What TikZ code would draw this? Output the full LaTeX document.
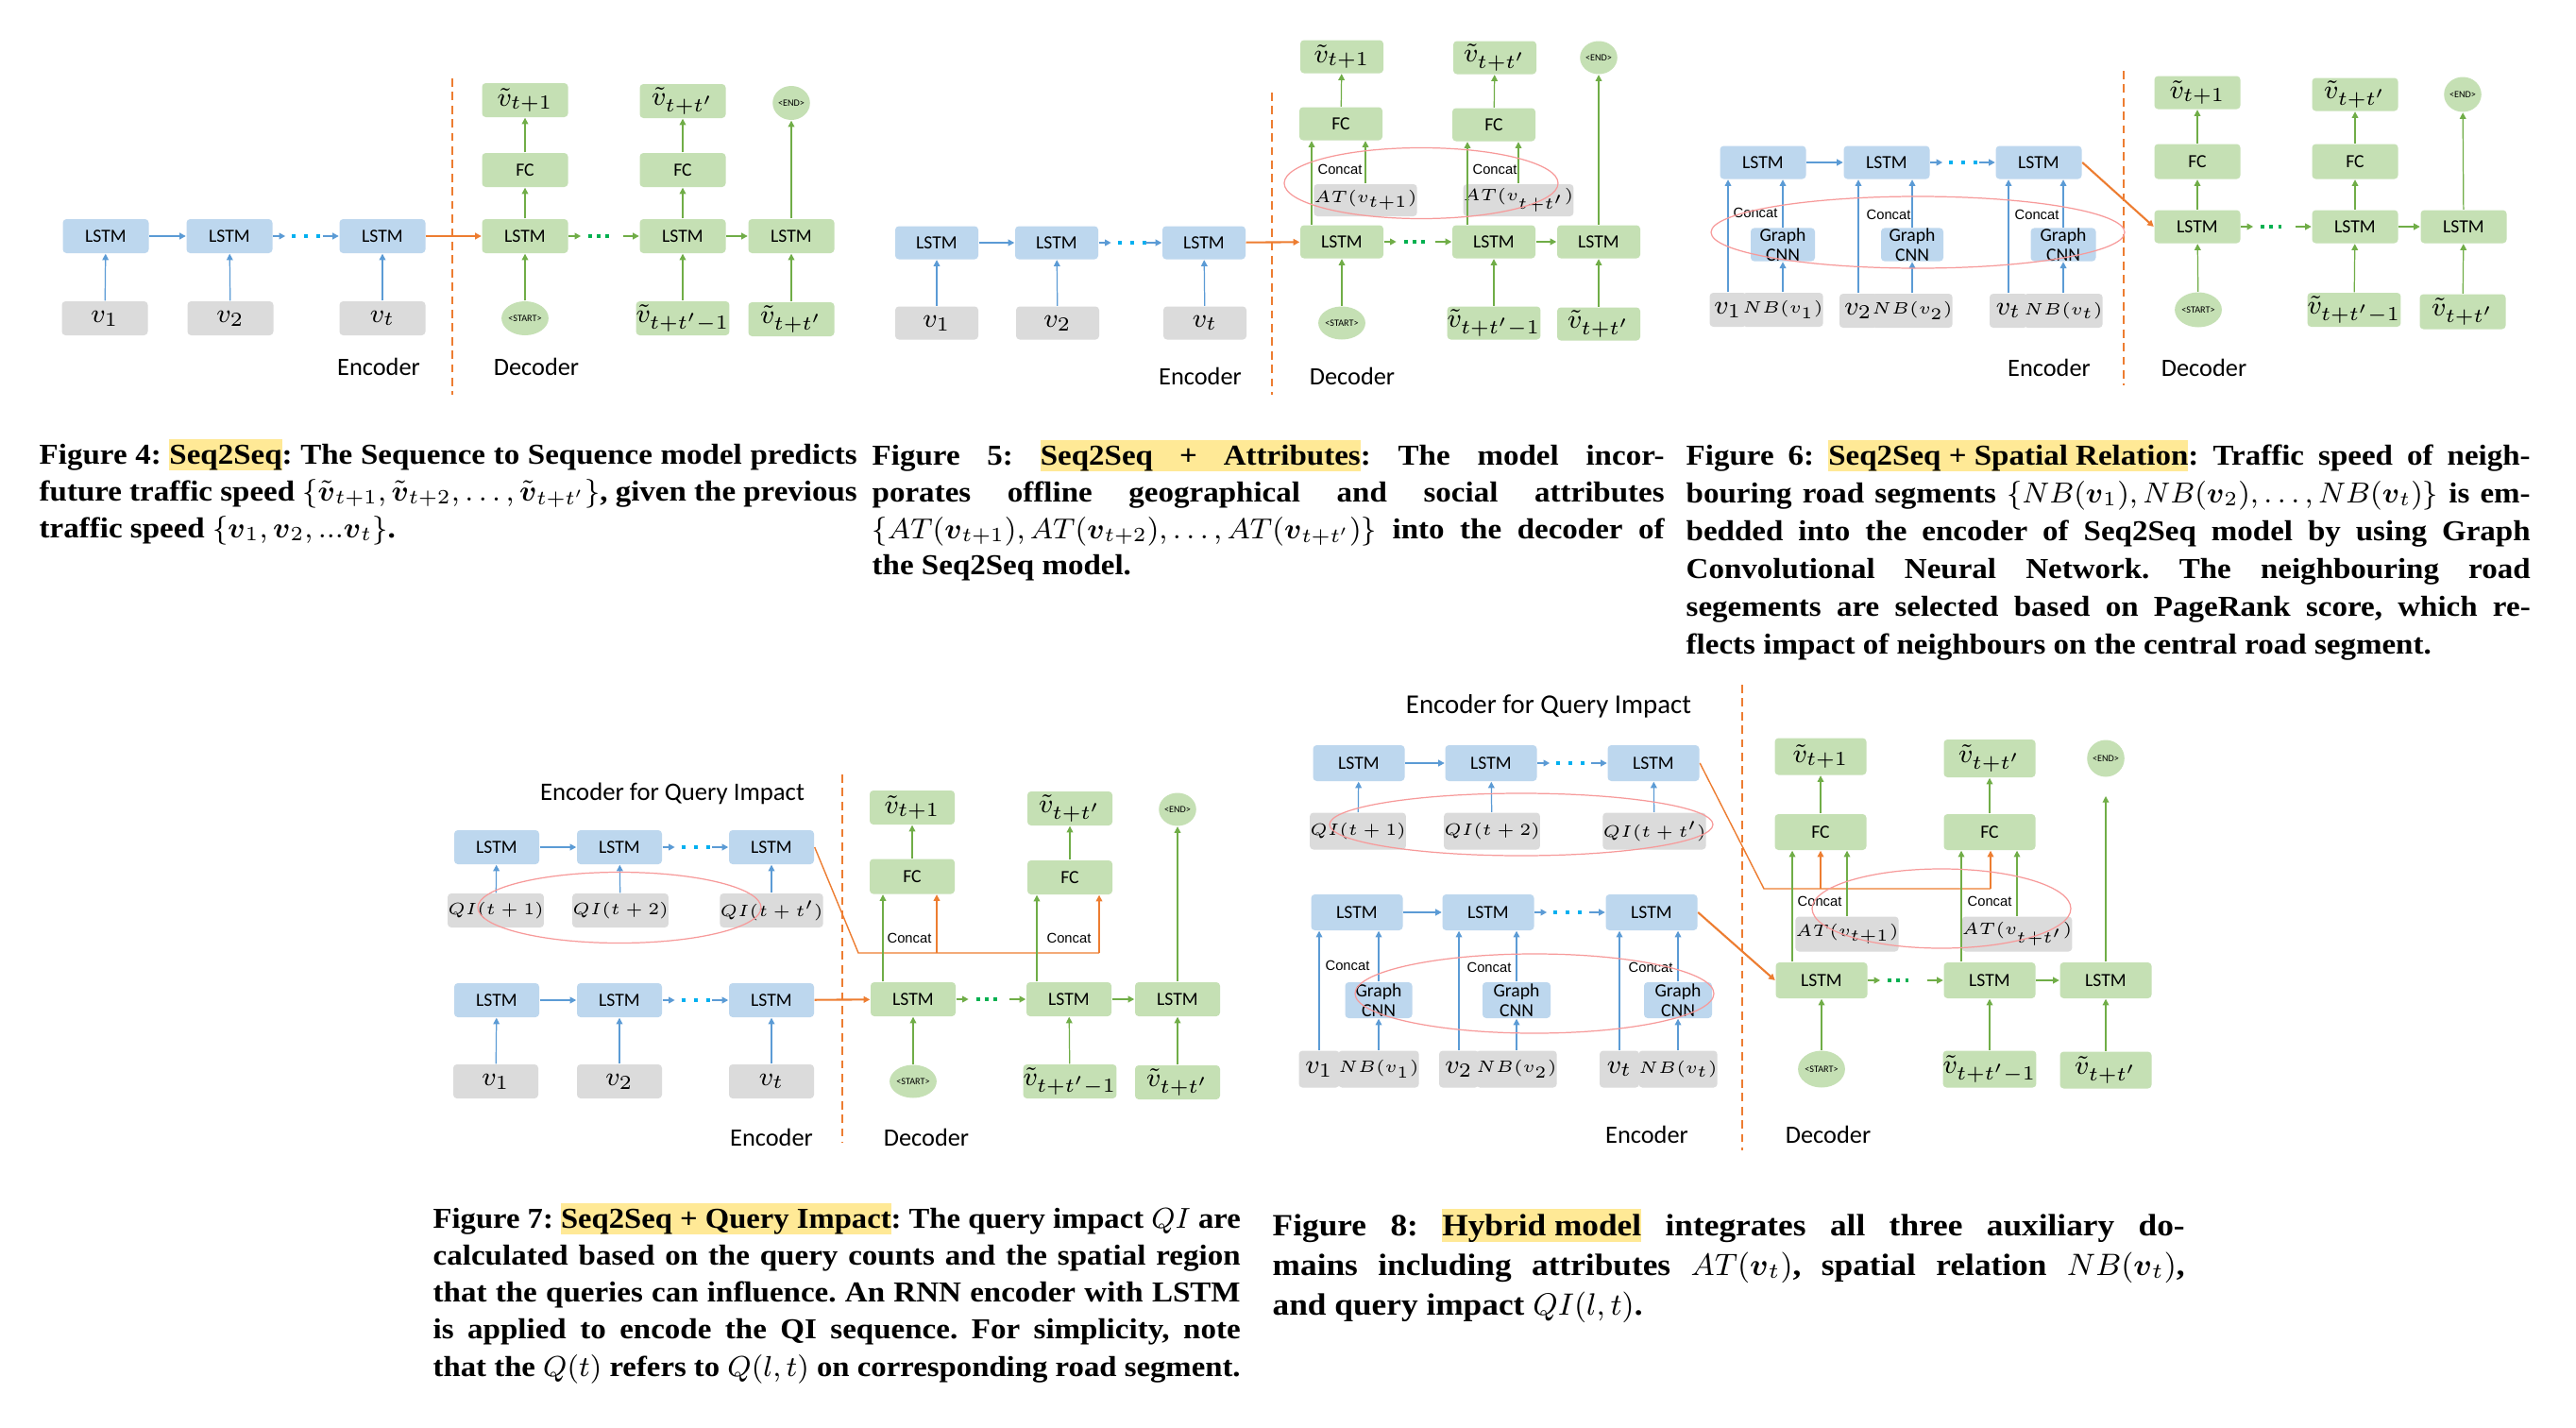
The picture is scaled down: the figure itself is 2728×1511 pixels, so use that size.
\RequirePackage{fix-cm}
\documentclass[tikz,border=0pt]{standalone}
\usepackage{amsmath}
\usepackage{fontspec}
\setmainfont{Liberation Serif}[FakeStretch=1.08]
\newfontfamily\carl{Carlito}
\newfontfamily\arl{Liberation Sans}
\usetikzlibrary{arrows.meta,shapes.geometric,calc}

\definecolor{encblue}{HTML}{BDD7EE}
\definecolor{decgreen}{HTML}{C5E0B4}
\definecolor{inpgray}{HTML}{DBDBDB}
\definecolor{arrblue}{HTML}{5B9BD5}
\definecolor{arrgreen}{HTML}{70AD47}
\definecolor{orangec}{HTML}{ED7D31}
\definecolor{cyanc}{HTML}{00B0F0}
\definecolor{greendot}{HTML}{00B050}
\definecolor{ellred}{HTML}{F79A9A}
\definecolor{hlc}{HTML}{FFE996}

\newcommand\fLSTM{\carl\fontsize{5.6}{6.1}\selectfont}
\newcommand\fCat{\arl\fontsize{4.2}{5}\selectfont}
\newcommand\fTiny{\carl\fontsize{2.9}{3}\selectfont}
\newcommand\fLab{\carl\fontsize{7.5}{8}\selectfont}
\newcommand\fTitleA{\carl\fontsize{7.6}{8}\selectfont}
\newcommand\fTitleB{\carl\fontsize{8.2}{9}\selectfont}
\newcommand\fMath{\fontsize{8}{9}\selectfont}
\newcommand\fSm{\fontsize{5}{6}\selectfont}
\newcommand\fCapA{\fontsize{8.7}{10}\selectfont\bfseries\frenchspacing}
\newcommand\fCapB{\fontsize{9.3}{11}\selectfont\bfseries\frenchspacing}
\newcommand\hlb[1]{{\setlength{\fboxsep}{0pt}\colorbox{hlc}{\rule[-0.18em]{0pt}{1.03em}#1}}}
\newcommand\hlbs[2]{{\setlength{\fboxsep}{0pt}\colorbox{hlc}{\rule[-0.18em]{0pt}{1.03em}\makebox[#1][s]{#2}}}}
\newcommand\bv{\boldsymbol{v}}
\newsavebox\linebox
\newcommand\fitline[2]{\sbox\linebox{#2}\ifdim\wd\linebox>#1\relax\resizebox{#1}{\height}{\usebox\linebox}\else\makebox[#1][s]{#2}\fi}

% a -> ... -> b connectors
\newcommand\encdots[2]{%
  \draw[abH] (#1.east) -- ([xshift=1.3mm]#1.east);
  \draw[dotE] ([xshift=2.0mm]#1.east) -- ([xshift=5.0mm]#1.east);
  \draw[abH] ([xshift=-1.7mm]#2.west) -- (#2.west);}
\newcommand\decdots[2]{%
  \draw[agH] (#1.east) -- ([xshift=1.3mm]#1.east);
  \draw[dotD] ([xshift=2.1mm]#1.east) -- ([xshift=4.5mm]#1.east);
  \draw[agH] ([xshift=-1.7mm]#2.west) -- (#2.west);}

\tikzset{
  bw/.style={minimum width=9.1mm, minimum height=3.6mm},
  boxbase/.style={rounded corners=1.1pt, inner sep=0pt, align=center},
  enc/.style={boxbase, bw, fill=encblue, font=\fLSTM},
  dec/.style={boxbase, bw, fill=decgreen, font=\fLSTM},
  inp/.style={boxbase, bw, fill=inpgray, font=\fMath},
  outb/.style={boxbase, bw, fill=decgreen, font=\fMath},
  smallg/.style={boxbase, fill=inpgray, font=\fSm},
  gcnn/.style={boxbase, fill=encblue, font=\fLSTM},
  oval/.style={ellipse, inner sep=0pt, fill=decgreen, font=\fTiny, minimum width=3.7mm, minimum height=3.6mm},
  lab/.style={inner sep=0pt, font=\fLab},
  cat/.style={inner sep=0pt, font=\fCat},
  capA/.style={anchor=base west, inner sep=0pt, font=\fCapA},
  capB/.style={anchor=base west, inner sep=0pt, font=\fCapB},
  arrtip/.style={-{Triangle[length=1.9pt,width=1.9pt]}},
  ab/.style={draw=arrblue, line width=0.35pt, arrtip},
  abH/.style={draw=arrblue, line width=0.6pt, arrtip},
  ag/.style={draw=arrgreen, line width=0.35pt, arrtip},
  agH/.style={draw=arrgreen, line width=0.6pt, arrtip},
  ao/.style={draw=orangec, line width=0.4pt, arrtip},
  aoH/.style={draw=orangec, line width=0.6pt, arrtip},
  aoL/.style={draw=orangec, line width=0.4pt},
  dotE/.style={draw=cyanc, line width=1.1pt, dash pattern=on 1.1pt off 2.6pt},
  dotD/.style={draw=greendot, line width=1.1pt, dash pattern=on 1.1pt off 1.5pt},
  sepline/.style={draw=orangec, line width=0.45pt, dash pattern=on 2.5pt off 1.6pt},
  ell/.style={draw=ellred, line width=0.35pt},
}

\begin{document}
\begin{tikzpicture}[x=0.1mm, y=-0.1mm]
\fill[white] (0,0) rectangle (2728,1511);
\useasboundingbox (0,0) rectangle (2728,1511);

%================ FIGURE 4 =================
\begin{scope}[bw/.style={minimum width=9.1mm, minimum height=3.6mm}, oval/.append style={minimum width=3.8mm, minimum height=3.6mm}]
\node[enc] (a1) at (112,250) {LSTM};
\node[enc] (a2) at (243,250) {LSTM};
\node[enc] (a3) at (405,250) {LSTM};
\node[inp] (ai1) at (111,337) {$v_1$};
\node[inp] (ai2) at (244,337) {$v_2$};
\node[inp] (ai3) at (405,337) {$v_t$};
\node[dec] (ad1) at (556,250) {LSTM};
\node[dec] (ad2) at (723,250) {LSTM};
\node[dec] (ad3) at (838,250) {LSTM};
\node[dec] (af1) at (556,180) {FC};
\node[dec] (af2) at (723,180) {FC};
\node[outb] (ao1) at (556,106) {$\tilde{v}_{t+1}$};
\node[outb] (ao2) at (723,107) {$\tilde{v}_{t+t'}$};
\node[oval] (aend) at (838,109) {<END>};
\node[oval] (astart) at (556,337) {<START>};
\node[outb] (ain2) at (723,337) {$\tilde{v}_{t+t'-1}$};
\node[outb] (ain3) at (838,338) {$\tilde{v}_{t+t'}$};
\node[lab] (aenc) at (401,388) {Encoder};
\node[lab] (adec) at (568,388) {Decoder};
\draw[sepline] (479,83) -- (479,418);
\draw[abH] (a1) -- (a2);
\encdots{a2}{a3}
\draw[ab] (ai1) -- (a1);
\draw[ab] (ai2) -- (a2);
\draw[ab] (ai3) -- (a3);
\draw[aoH] (a3) -- (ad1);
\decdots{ad1}{ad2}
\draw[agH] (ad2) -- (ad3);
\draw[ag] (astart) -- (ad1);
\draw[ag] (ain2) -- (ad2);
\draw[ag] (ain3) -- (ad3);
\draw[ag] (ad1) -- (af1);
\draw[ag] (ad2) -- (af2);
\draw[ag] (af1) -- (ao1);
\draw[ag] (af2) -- (ao2);
\draw[ag] (ad3) -- (aend);
\end{scope}

%================ FIGURE 5 =================
\begin{scope}[bw/.style={minimum width=8.8mm, minimum height=3.5mm}, oval/.append style={minimum width=3.5mm, minimum height=3.5mm}]
\node[enc] (b1) at (992,257) {LSTM};
\node[enc] (b2) at (1119,257) {LSTM};
\node[enc] (b3) at (1275,257) {LSTM};
\node[inp] (bi1) at (992,342) {$v_1$};
\node[inp] (bi2) at (1120,342) {$v_2$};
\node[inp] (bi3) at (1276,342) {$v_t$};
\node[dec] (bd1) at (1421,256) {LSTM};
\node[dec] (bd2) at (1582,256) {LSTM};
\node[dec] (bd3) at (1693,256) {LSTM};
\node[dec] (bf1) at (1420,131) {FC};
\node[dec] (bf2) at (1582,132) {FC};
\node[outb] (bo1) at (1421,60) {$\tilde{v}_{t+1}$};
\node[outb] (bo2) at (1583,61) {$\tilde{v}_{t+t'}$};
\node[oval] (bend) at (1693,61) {<END>};
\node[smallg, minimum width=8.7mm, minimum height=3.4mm] (bat1) at (1446,212) {$AT(v_{t+1})$};
\node[smallg, minimum width=8.7mm, minimum height=3.4mm] (bat2) at (1608,212) {$AT(v_{t+t'})$};
\node[cat] (bc1) at (1419,179) {Concat};
\node[cat] (bc2) at (1583,179) {Concat};
\node[oval] (bstart) at (1421,342) {<START>};
\node[outb] (bin2) at (1582,342) {$\tilde{v}_{t+t'-1}$};
\node[outb] (bin3) at (1693,343) {$\tilde{v}_{t+t'}$};
\node[lab] (benc) at (1271,398) {Encoder};
\node[lab] (bdec) at (1432,398) {Decoder};
\draw[sepline] (1347,98) -- (1347,418);
\draw[abH] (b1) -- (b2);
\encdots{b2}{b3}
\draw[ab] (bi1) -- (b1);
\draw[ab] (bi2) -- (b2);
\draw[ab] (bi3) -- (b3);
\draw[aoH] (b3) -- (bd1);
\decdots{bd1}{bd2}
\draw[agH] (bd2) -- (bd3);
\draw[ag] (bstart) -- (bd1);
\draw[ag] (bin2) -- (bd2);
\draw[ag] (bin3) -- (bd3);
\draw[ag] ([xshift=-3.2mm]bd1.north) -- ([xshift=-3.2mm]bd1.north |- bf1.south);
\draw[ag] (bat1.north) -- (bat1.north |- bf1.south);
\draw[ag] ([xshift=-2.8mm]bd2.north) -- ([xshift=-2.8mm]bd2.north |- bf2.south);
\draw[ag] (bat2.north) -- (bat2.north |- bf2.south);
\draw[ag] (bf1) -- (bo1);
\draw[ag] (bf2) -- (bo2);
\draw[ag] (bd3) -- (bend);
\draw[ell] (1505,194) ellipse [x radius=14.5mm, y radius=3.75mm];
\end{scope}

%================ FIGURE 6 =================
\begin{scope}[bw/.style={minimum width=9.1mm, minimum height=3.5mm}, oval/.append style={minimum width=3.6mm, minimum height=3.7mm}]
\node[enc] (c1) at (1867,172) {LSTM};
\node[enc] (c2) at (1998,172) {LSTM};
\node[enc] (c3) at (2159,172) {LSTM};
\node[gcnn, minimum width=6.8mm, minimum height=3.5mm] (cg1) at (1888,259) {Graph\\CNN};
\node[gcnn, minimum width=6.6mm, minimum height=3.5mm] (cg2) at (2025,259) {Graph\\CNN};
\node[gcnn, minimum width=6.9mm, minimum height=3.5mm] (cg3) at (2185,259) {Graph\\CNN};
\node[boxbase, fill=inpgray, font=\fMath, minimum width=3.9mm, minimum height=3.6mm] (cv1) at (1830,328) {$v_1$};
\node[smallg, minimum width=6.7mm, minimum height=3.6mm] (cn1) at (1888,328) {$NB(v_1)$};
\node[boxbase, fill=inpgray, font=\fMath, minimum width=4.0mm, minimum height=3.6mm] (cv2) at (1968,329) {$v_2$};
\node[smallg, minimum width=6.6mm, minimum height=3.6mm] (cn2) at (2025,329) {$NB(v_2)$};
\node[boxbase, fill=inpgray, font=\fMath, minimum width=4.0mm, minimum height=3.6mm] (cv3) at (2127,329) {$v_t$};
\node[smallg, minimum width=6.9mm, minimum height=3.6mm] (cn3) at (2185,329) {$NB(v_t)$};
\node[cat] (cc1) at (1859,225) {Concat};
\node[cat] (cc2) at (2000,227) {Concat};
\node[cat] (cc3) at (2157,227) {Concat};
\node[dec] (cd1) at (2327,240) {LSTM};
\node[dec] (cd2) at (2494,240) {LSTM};
\node[dec] (cd3) at (2609,240) {LSTM};
\node[dec, minimum height=3.7mm] (cf1) at (2327,171) {FC};
\node[dec, minimum height=3.7mm] (cf2) at (2494,171) {FC};
\node[outb] (co1) at (2327,98) {$\tilde{v}_{t+1}$};
\node[outb] (co2) at (2494,100) {$\tilde{v}_{t+t'}$};
\node[oval] (cend) at (2608,100) {<END>};
\node[oval] (cstart) at (2328,328) {<START>};
\node[outb, minimum height=3.6mm] (cin2) at (2493,328) {$\tilde{v}_{t+t'-1}$};
\node[outb, minimum height=3.7mm] (cin3) at (2608,330) {$\tilde{v}_{t+t'}$};
\node[lab] (cenc) at (2170,389) {Encoder};
\node[lab] (cdec) at (2334,389) {Decoder};
\draw[sepline] (2249,75) -- (2249,408);
\draw[abH] (c1) -- (c2);
\encdots{c2}{c3}
\draw[ab] (cv1.north) -- (cv1.north |- c1.south);
\draw[ab] (cn1) -- (cg1);
\draw[ab] (cg1.north) -- (cg1.north |- c1.south);
\draw[ab] (cv2.north) -- (cv2.north |- c2.south);
\draw[ab] (cn2) -- (cg2);
\draw[ab] (cg2.north) -- (cg2.north |- c2.south);
\draw[ab] (cv3.north) -- (cv3.north |- c3.south);
\draw[ab] (cn3) -- (cg3);
\draw[ab] (cg3.north) -- (cg3.north |- c3.south);
\draw[aoH] (c3.east) -- (cd1.west);
\decdots{cd1}{cd2}
\draw[agH] (cd2) -- (cd3);
\draw[ag] (cstart) -- (cd1);
\draw[ag] (cin2) -- (cd2);
\draw[ag] (cin3) -- (cd3);
\draw[ag] (cd1) -- (cf1);
\draw[ag] (cd2) -- (cf2);
\draw[ag] (cf1) -- (co1);
\draw[ag] (cf2) -- (co2);
\draw[ag] (cd3) -- (cend);
\draw[ell] (2031,246) ellipse [x radius=21.9mm, y radius=3.8mm];
\end{scope}

%================ FIGURE 7 =================
\begin{scope}[bw/.style={minimum width=9.0mm, minimum height=3.6mm}, oval/.append style={minimum width=3.5mm, minimum height=3.5mm}]
\node[inner sep=0pt, font=\fTitleA] (gtitle) at (712,840) {Encoder for Query Impact};
\node[enc] (g1) at (526,897) {LSTM};
\node[enc] (g2) at (656,897) {LSTM};
\node[enc] (g3) at (817,897) {LSTM};
\node[smallg, minimum width=9.0mm, minimum height=3.6mm] (gq1) at (525,964) {$QI(t+1)$};
\node[smallg, minimum width=9.0mm, minimum height=3.6mm] (gq2) at (657,964) {$QI(t+2)$};
\node[smallg, minimum width=9.0mm, minimum height=3.6mm] (gq3) at (817,964) {$QI(t+t')$};
\node[enc] (h1) at (526,1059) {LSTM};
\node[enc] (h2) at (656,1059) {LSTM};
\node[enc] (h3) at (817,1059) {LSTM};
\node[inp] (hi1) at (525,1145) {$v_1$};
\node[inp] (hi2) at (656,1145) {$v_2$};
\node[inp] (hi3) at (817,1145) {$v_t$};
\node[dec] (gd1) at (967,1058) {LSTM};
\node[dec] (gd2) at (1132,1058) {LSTM};
\node[dec] (gd3) at (1247,1058) {LSTM};
\node[dec, minimum height=3.7mm] (gf1) at (966,928) {FC};
\node[dec, minimum height=3.6mm] (gf2) at (1133,929) {FC};
\node[outb] (go1) at (966,855) {$\tilde{v}_{t+1}$};
\node[outb] (go2) at (1133,856) {$\tilde{v}_{t+t'}$};
\node[oval] (gend) at (1247,857) {<END>};
\node[oval] (gstart) at (967,1145) {<START>};
\node[outb] (gin2) at (1133,1145) {$\tilde{v}_{t+t'-1}$};
\node[outb] (gin3) at (1247,1146) {$\tilde{v}_{t+t'}$};
\node[cat] (gc1) at (963,993) {Concat};
\node[cat] (gc2) at (1132,993) {Concat};
\node[lab] (genc) at (817,1204) {Encoder};
\node[lab] (gdec) at (981,1204) {Decoder};
\coordinate (gk1) at (909,1009);
\coordinate (gk2) at (1164,1009);
\draw[sepline] (892,820) -- (892,1210);
\draw[abH] (g1) -- (g2);
\encdots{g2}{g3}
\draw[ab] (gq1) -- (g1);
\draw[ab] (gq2) -- (g2);
\draw[ab] (gq3) -- (g3);
\draw[abH] (h1) -- (h2);
\encdots{h2}{h3}
\draw[ab] (hi1) -- (h1);
\draw[ab] (hi2) -- (h2);
\draw[ab] (hi3) -- (h3);
\draw[aoH] (h3) -- (gd1);
\draw[aoL] (g3.east) -- (gk1) -- (gk2);
\draw[ao] ([xshift=2.6mm]gf1.south |- gk1) -- ([xshift=2.6mm]gf1.south);
\draw[ao] (gk2) -- (gk2 |- gf2.south);
\decdots{gd1}{gd2}
\draw[agH] (gd2) -- (gd3);
\draw[ag] (gstart) -- (gd1);
\draw[ag] (gin2) -- (gd2);
\draw[ag] (gin3) -- (gd3);
\draw[ag] ([xshift=-3.2mm]gd1.north) -- ([xshift=-3.2mm]gd1.north |- gf1.south);
\draw[ag] ([xshift=-3.4mm]gd2.north) -- ([xshift=-3.4mm]gd2.north |- gf2.south);
\draw[ag] (gf1) -- (go1);
\draw[ag] (gf2) -- (go2);
\draw[ag] (gd3) -- (gend);
\draw[ell] (656,961) ellipse [x radius=15.0mm, y radius=3.75mm];
\end{scope}

%================ FIGURE 8 =================
\begin{scope}[bw/.style={minimum width=9.7mm, minimum height=3.8mm}, oval/.append style={minimum width=3.8mm, minimum height=3.9mm}]
\node[inner sep=0pt, font=\fTitleB] (ktitle) at (1640,748) {Encoder for Query Impact};
\node[enc] (k1) at (1439,808) {LSTM};
\node[enc] (k2) at (1579,808) {LSTM};
\node[enc] (k3) at (1751,808) {LSTM};
\node[smallg, minimum width=9.7mm, minimum height=3.9mm] (kq1) at (1438,880) {$QI(t+1)$};
\node[smallg, minimum width=9.7mm, minimum height=3.9mm] (kq2) at (1580,880) {$QI(t+2)$};
\node[smallg, minimum width=9.6mm, minimum height=3.9mm] (kq3) at (1752,880) {$QI(t+t')$};
\node[enc] (m1) at (1437,966) {LSTM};
\node[enc] (m2) at (1576,966) {LSTM};
\node[enc] (m3) at (1749,966) {LSTM};
\node[gcnn, minimum width=7.1mm, minimum height=3.8mm] (mg1) at (1460,1059) {Graph\\CNN};
\node[gcnn, minimum width=7.2mm, minimum height=3.8mm] (mg2) at (1606,1059) {Graph\\CNN};
\node[gcnn, minimum width=7.2mm, minimum height=3.8mm] (mg3) at (1777,1059) {Graph\\CNN};
\node[boxbase, fill=inpgray, font=\fMath, minimum width=4.3mm, minimum height=3.9mm] (mv1) at (1397,1132) {$v_1$};
\node[smallg, minimum width=7.1mm, minimum height=3.9mm] (mn1) at (1460,1132) {$NB(v_1)$};
\node[boxbase, fill=inpgray, font=\fMath, minimum width=4.2mm, minimum height=3.9mm] (mv2) at (1545,1132) {$v_2$};
\node[smallg, minimum width=7.1mm, minimum height=3.9mm] (mn2) at (1606,1132) {$NB(v_2)$};
\node[boxbase, fill=inpgray, font=\fMath, minimum width=4.2mm, minimum height=3.9mm] (mv3) at (1715,1132) {$v_t$};
\node[smallg, minimum width=7.2mm, minimum height=3.9mm] (mn3) at (1777,1132) {$NB(v_t)$};
\node[cat] (mc1) at (1427,1022) {Concat};
\node[cat] (mc2) at (1577,1024) {Concat};
\node[cat] (mc3) at (1748,1024) {Concat};
\node[dec] (kd1) at (1929,1038) {LSTM};
\node[dec] (kd2) at (2107,1038) {LSTM};
\node[dec] (kd3) at (2230,1038) {LSTM};
\node[dec] (kf1) at (1928,881) {FC};
\node[dec] (kf2) at (2107,881) {FC};
\node[outb, minimum height=3.9mm] (ko1) at (1928,801) {$\tilde{v}_{t+1}$};
\node[outb, minimum height=4.0mm] (ko2) at (2107,803) {$\tilde{v}_{t+t'}$};
\node[oval] (kend) at (2230,803) {<END>};
\node[smallg, minimum width=9.6mm, minimum height=3.7mm] (kat1) at (1956,989) {$AT(v_{t+1})$};
\node[smallg, minimum width=9.7mm, minimum height=3.7mm] (kat2) at (2136,989) {$AT(v_{t+t'})$};
\node[cat] (kc1) at (1927,954) {Concat};
\node[cat] (kc2) at (2107,954) {Concat};
\node[oval] (kstart) at (1929,1132) {<START>};
\node[outb, minimum height=3.9mm] (kin2) at (2107,1132) {$\tilde{v}_{t+t'-1}$};
\node[outb, minimum height=3.9mm] (kin3) at (2230,1133) {$\tilde{v}_{t+t'}$};
\node[lab] (kenc) at (1744,1201) {Encoder};
\node[lab] (kdec) at (1936,1201) {Decoder};
\coordinate (kk1) at (1868,941);
\coordinate (kk2) at (2108,941);
\coordinate (kendtip) at (2230,843);
\draw[sepline] (1845,725) -- (1845,1218);
% top encoder
\draw[abH] (k1) -- (k2);
\encdots{k2}{k3}
\draw[ab] (kq1) -- (k1);
\draw[ab] (kq2) -- (k2);
\draw[ab] (kq3) -- (k3);
% spatial encoder
\draw[abH] (m1) -- (m2);
\encdots{m2}{m3}
\draw[ab] (mv1.north) -- (mv1.north |- m1.south);
\draw[ab] (mn1) -- (mg1);
\draw[ab] (mg1.north) -- (mg1.north |- m1.south);
\draw[ab] (mv2.north) -- (mv2.north |- m2.south);
\draw[ab] (mn2) -- (mg2);
\draw[ab] (mg2.north) -- (mg2.north |- m2.south);
\draw[ab] (mv3.north) -- (mv3.north |- m3.south);
\draw[ab] (mn3) -- (mg3);
\draw[ab] (mg3.north) -- (mg3.north |- m3.south);
% orange
\draw[aoL] (k3.east) -- (kk1) -- (kk2);
\draw[ao] (kf1.south |- kk1) -- (kf1.south);
\draw[ao] (kk2) -- (kk2 |- kf2.south);
\draw[aoH] (m3.east) -- (kd1.west);
% decoder
\decdots{kd1}{kd2}
\draw[agH] (kd2) -- (kd3);
\draw[ag] (kstart) -- (kd1);
\draw[ag] (kin2) -- (kd2);
\draw[ag] (kin3) -- (kd3);
\draw[ag] ([xshift=-3.1mm]kd1.north) -- ([xshift=-3.1mm]kd1.north |- kf1.south);
\draw[ag] (kat1.north) -- (kat1.north |- kf1.south);
\draw[ag] ([xshift=-3.0mm]kd2.north) -- ([xshift=-3.0mm]kd2.north |- kf2.south);
\draw[ag] (kat2.north) -- (kat2.north |- kf2.south);
\draw[ag] (kf1) -- (ko1);
\draw[ag] (kf2) -- (ko2);
\draw[ag] (kd3) -- (kendtip);
\draw[ell] (1611,873) ellipse [x radius=20.3mm, y radius=3.3mm];
\draw[ell] (1625,1052) ellipse [x radius=19.0mm, y radius=4.2mm];
\draw[ell] (2056,962) ellipse [x radius=13.7mm, y radius=4.2mm];
\end{scope}

%================ CAPTIONS =================
\node[capA] (c4a) at (41,491) {\fitline{86.6mm}{Figure 4: \hlb{Seq2Seq}: The Sequence to Sequence model predicts}};
\node[capA] (c4b) at (41,530) {\fitline{86.6mm}{future traffic speed $\{\tilde{\bv}_{t+1},\tilde{\bv}_{t+2},\ldots,\tilde{\bv}_{t+t'}\}$, given the previous}};
\node[capA] (c4c) at (41,569) {traffic speed $\{\bv_1,\bv_2,...\bv_t\}$.};

\node[capA] (c5a) at (923,492) {\fitline{83.9mm}{Figure 5: \hlbs{33.9mm}{Seq2Seq + Attributes}: The model incor-}};
\node[capA] (c5b) at (923,531) {\fitline{83.9mm}{porates offline geographical and social attributes}};
\node[capA] (c5c) at (923,570) {\fitline{83.9mm}{$\{AT(\bv_{t+1}),AT(\bv_{t+2}),\ldots,AT(\bv_{t+t'})\}$ into the decoder of}};
\node[capA] (c5d) at (923,608) {the Seq2Seq model.};

\node[capA] (c6a) at (1785,492) {\fitline{89.4mm}{Figure 6: \hlb{Seq2Seq + Spatial Relation}: Traffic speed of neigh-}};
\node[capA] (c6b) at (1785,532) {\fitline{89.4mm}{bouring road segments $\{NB(\bv_1),NB(\bv_2),\ldots,NB(\bv_t)\}$ is em-}};
\node[capA] (c6c) at (1785,572) {\fitline{89.4mm}{bedded into the encoder of Seq2Seq model by using Graph}};
\node[capA] (c6d) at (1785,612) {\fitline{89.4mm}{Convolutional Neural Network. The neighbouring road}};
\node[capA] (c6e) at (1785,652) {\fitline{89.4mm}{segements are selected based on PageRank score, which re-}};
\node[capA] (c6f) at (1785,692) {flects impact of neighbours on the central road segment.};

\node[capA] (c7a) at (458,1300) {\fitline{85.5mm}{Figure 7: \hlb{Seq2Seq + Query Impact}: The query impact $QI$ are}};
\node[capA] (c7b) at (458,1339) {\fitline{85.5mm}{calculated based on the query counts and the spatial region}};
\node[capA] (c7c) at (458,1378) {\fitline{85.5mm}{that the queries can influence. An RNN encoder with LSTM}};
\node[capA] (c7d) at (458,1417) {\fitline{85.5mm}{is applied to encode the QI sequence. For simplicity, note}};
\node[capA] (c7e) at (458,1457) {\fitline{85.5mm}{that the $Q(t)$ refers to $Q(l,t)$ on corresponding road segment.}};

\node[capB] (c8a) at (1347,1308) {\fitline{96.6mm}{Figure 8: \hlb{Hybrid model} integrates all three auxiliary do-}};
\node[capB] (c8b) at (1347,1350) {\fitline{96.6mm}{mains including attributes $AT(\bv_t)$, spatial relation $NB(\bv_t)$,}};
\node[capB] (c8c) at (1347,1392) {and query impact $QI(l,t)$.};
\end{tikzpicture}
\end{document}
